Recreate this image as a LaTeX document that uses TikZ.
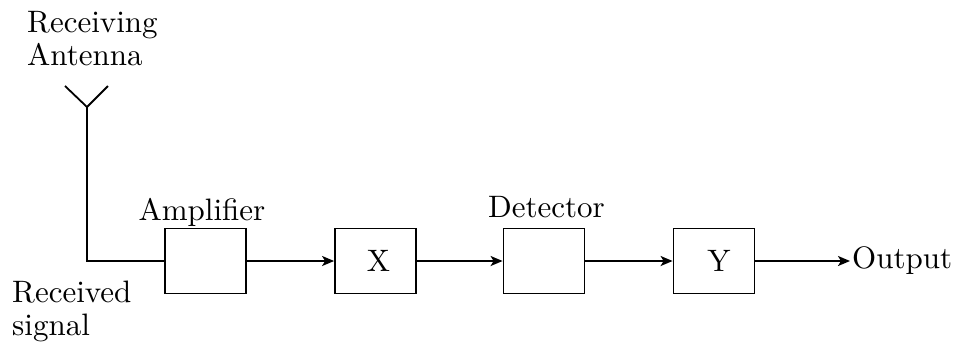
\documentclass[tikz,border=0pt]{standalone}
\usepackage{fontspec}
\setmainfont{lmroman10-regular.otf}
\usetikzlibrary{arrows.meta}
\begin{document}
\begin{tikzpicture}[x=1pt,y=-1pt,
  every node/.style={font=\fontsize{31}{33}\selectfont},
  blk/.style={draw,line width=1.8pt,minimum width=81pt,minimum height=65pt,inner sep=0pt},
  lbl/.style={inner sep=0pt,align=left},
  wire/.style={line width=1.8pt},
  arr/.style={wire,-{Stealth[length=12pt,width=10pt,inset=3pt]}}]
\useasboundingbox (0,0) rectangle (957,346);
% blocks
\node[blk] (amp) at (205.5,261) {};
\node[blk] (x) at (375.5,261) {\hspace{6pt}X};
\node[blk] (det) at (544,261) {};
\node[blk] (y) at (714,261) {\hspace{10pt}Y};
% labels
\node[lbl,anchor=base] (ampl) at (202,220) {Amplifier};
\node[lbl,anchor=base] (detl) at (546.5,217) {Detector};
\node[lbl,anchor=north west] (ra) at (27,11.5) {Receiving\\Antenna};
\node[lbl,anchor=north west] (rs) at (12,281) {Received\\signal};
\node[inner sep=2pt,anchor=west] (out) at (850,261) {Output};
% antenna
\coordinate (av) at (87,107);
\coordinate (al) at (65,86);
\coordinate (ar) at (108,86);
\draw[wire,line join=miter] (al) -- (av) -- (ar);
\draw[wire] (av) |- (amp.west);
% connectors
\draw[arr] (amp.east) -- (x.west);
\draw[arr] (x.east) -- (det.west);
\draw[arr] (det.east) -- (y.west);
\draw[arr] (y.east) -- (out.west);
\end{tikzpicture}
\end{document}
